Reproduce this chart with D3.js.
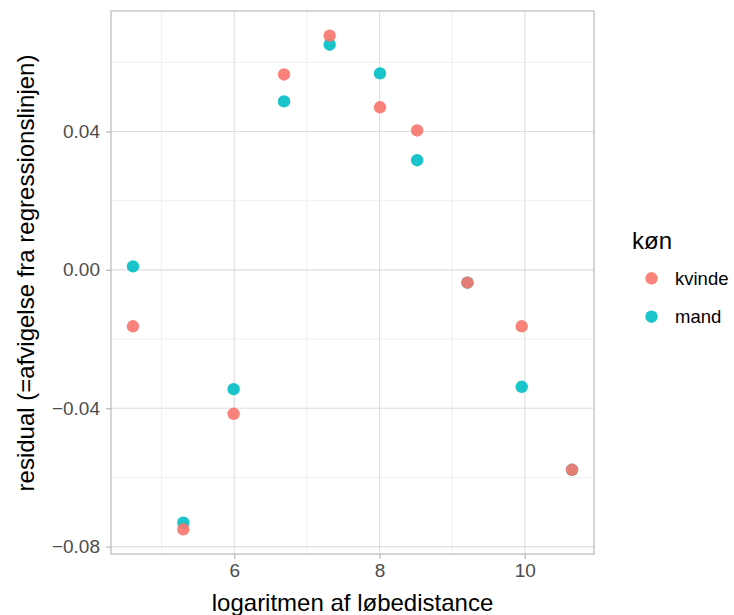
<!DOCTYPE html>
<html>
<head>
<meta charset="utf-8">
<script src="https://cdn.jsdelivr.net/npm/d3@7"></script>
<style>
  html, body { margin: 0; padding: 0; background: #fff; }
  svg { display: block; font-family: "Liberation Sans", Arial, Helvetica, sans-serif; }
</style>
</head>
<body>
<svg id="chart" width="734" height="615"></svg>
<script>
// log running distance (metres) for each race
const logDistance = [4.605, 5.298, 5.991, 6.685, 7.313, 8.006, 8.517, 9.210, 9.957, 10.650];
// residuals from the regression line, by sex
const residMand   = [0.0010, -0.0731, -0.0345, 0.0487, 0.0651, 0.0568, 0.0317, -0.0037, -0.0338, -0.0578];
const residKvinde = [-0.0163, -0.0750, -0.0416, 0.0565, 0.0677, 0.0470, 0.0403, -0.0037, -0.0163, -0.0578];
const groups = ["kvinde", "mand"];
const xTicks = [6, 8, 10];
const yTicks = [-0.08, -0.04, 0.00, 0.04];

const colors = { kvinde: "#F8766D", mand: "#00BFC4" };

const svg = d3.select("#chart");
const panel = { left: 111, right: 594, top: 11, bottom: 554 };

// ggplot-style 5% expansion of the data range
function expand(ext) { const d = (ext[1] - ext[0]) * 0.05; return [ext[0] - d, ext[1] + d]; }
const allY = residMand.concat(residKvinde);
const x = d3.scaleLinear().domain(expand(d3.extent(logDistance))).range([panel.left, panel.right]);
const y = d3.scaleLinear().domain(expand(d3.extent(allY))).range([panel.bottom, panel.top]);

const g = svg.append("g");

// minor grid
const xMinor = [5, 7, 9];
const yMinor = [-0.06, -0.02, 0.02, 0.06];
g.selectAll(".xminor").data(xMinor).enter().append("line")
  .attr("x1", d => x(d)).attr("x2", d => x(d))
  .attr("y1", panel.top).attr("y2", panel.bottom)
  .attr("stroke", "#EBEBEB").attr("stroke-width", 0.8);
g.selectAll(".yminor").data(yMinor).enter().append("line")
  .attr("y1", d => y(d)).attr("y2", d => y(d))
  .attr("x1", panel.left).attr("x2", panel.right)
  .attr("stroke", "#EBEBEB").attr("stroke-width", 0.8);
// major grid
g.selectAll(".xmajor").data(xTicks).enter().append("line")
  .attr("x1", d => x(d)).attr("x2", d => x(d))
  .attr("y1", panel.top).attr("y2", panel.bottom)
  .attr("stroke", "#DEDEDE").attr("stroke-width", 1.1);
g.selectAll(".ymajor").data(yTicks).enter().append("line")
  .attr("y1", d => y(d)).attr("y2", d => y(d))
  .attr("x1", panel.left).attr("x2", panel.right)
  .attr("stroke", "#DEDEDE").attr("stroke-width", 1.1);

// axes
const fmtY = v => (v === 0 ? "0.00" : d3.format(".2f")(v)).replace("-", "\u2212");
const xAxis = d3.axisBottom(x).tickValues(xTicks).tickSize(5).tickPadding(5).tickFormat(d3.format("d"));
const yAxis = d3.axisLeft(y).tickValues(yTicks).tickSize(5).tickPadding(6).tickFormat(fmtY);
const xa = svg.append("g").attr("transform", `translate(0,${panel.bottom})`).call(xAxis);
const ya = svg.append("g").attr("transform", `translate(${panel.left},0)`).call(yAxis);
[xa, ya].forEach(a => {
  a.select(".domain").remove();
  a.selectAll("line").attr("stroke", "#B3B3B3").attr("stroke-width", 1.1);
  a.selectAll("text").attr("fill", "#4D4D4D").style("font-size", "19px")
    .style("font-family", "'Liberation Sans', Arial, sans-serif");
});

// panel border
svg.append("rect")
  .attr("x", panel.left).attr("y", panel.top)
  .attr("width", panel.right - panel.left).attr("height", panel.bottom - panel.top)
  .attr("fill", "none").attr("stroke", "#B3B3B3").attr("stroke-width", 1.1);

// points: mand first, kvinde on top
const pts = [];
logDistance.forEach((d, i) => pts.push({ x: d, y: residMand[i], k: "mand" }));
logDistance.forEach((d, i) => pts.push({ x: d, y: residKvinde[i], k: "kvinde" }));
svg.append("g").selectAll("circle").data(pts).enter().append("circle")
  .attr("cx", d => x(d.x)).attr("cy", d => y(d.y)).attr("r", 6.2)
  .attr("fill", d => colors[d.k]).attr("fill-opacity", 0.9);

// axis titles
svg.append("text")
  .attr("x", (panel.left + panel.right) / 2).attr("y", 611)
  .attr("text-anchor", "middle").style("font-size", "24px").attr("fill", "#000")
  .text("logaritmen af løbedistance");
svg.append("text")
  .attr("transform", `translate(34,273) rotate(-90)`)
  .attr("text-anchor", "middle").style("font-size", "24px").attr("fill", "#000")
  .text("residual (=afvigelse fra regressionslinjen)");

// legend
const leg = svg.append("g");
leg.append("text").attr("x", 632).attr("y", 249).style("font-size", "24px").attr("fill", "#000").text("køn");
groups.forEach((k, i) => {
  const cy = 278.3 + i * 38.4;
  leg.append("circle").attr("cx", 651.5).attr("cy", cy).attr("r", 6.2)
    .attr("fill", colors[k]).attr("fill-opacity", 0.9);
  leg.append("text").attr("x", 675).attr("y", cy).attr("dy", "0.36em")
    .style("font-size", "18.5px").attr("fill", "#000").text(k);
});
</script>
</body>
</html>
